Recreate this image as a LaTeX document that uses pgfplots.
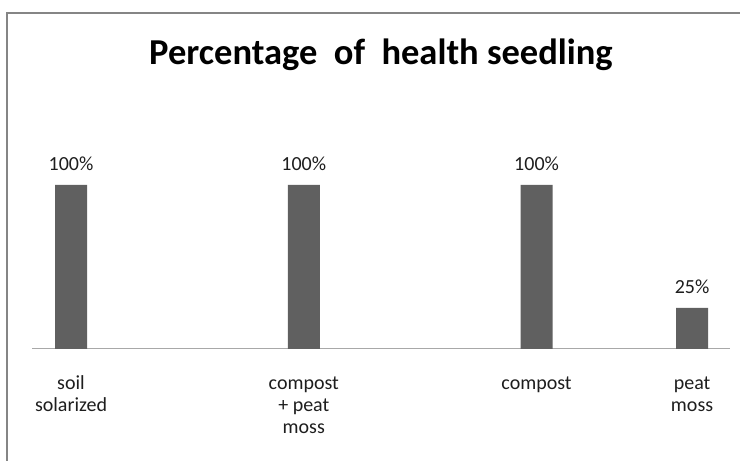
\documentclass[border=0pt]{standalone}
\usepackage{fontspec}
\setmainfont{Carlito}
\usepackage{pgfplots}
\pgfplotsset{compat=1.18}
\definecolor{barc}{HTML}{606060}
\definecolor{framec}{HTML}{858585}
\definecolor{axc}{HTML}{A8A8A8}
\definecolor{txt}{HTML}{1E1E1E}
\begin{document}
\begin{tikzpicture}[x=1bp,y=1bp]
\useasboundingbox (0,0) rectangle (740,461);
\fill[white] (0,0) rectangle (740,461);
\draw[framec, line width=1.5bp] (7,-5) -- (7,448) -- (745,448);
\node[anchor=base, font=\fontsize{36.5bp}{40bp}\selectfont\bfseries, text=black, inner sep=0pt] at (381,396) {Percentage\ \ of\ \ health seedling};
\begin{axis}[
  at={(32bp,112bp)}, anchor=south west,
  scale only axis, width=698bp, height=164bp,
  xmin=-0.1676, xmax=2.831, ymin=0, ymax=100,
  axis y line=none,
  axis x line*=bottom,
  x axis line style={draw=axc, line width=1bp, -},
  xtick={0,1,2,2.668},
  xticklabels={{\begin{tabular}[t]{@{}c@{}}soil\\solarized\end{tabular}},
               {\begin{tabular}[t]{@{}c@{}}compost\\+ peat\\moss\end{tabular}},
               {\begin{tabular}[t]{@{}c@{}}compost\end{tabular}},
               {\begin{tabular}[t]{@{}c@{}}peat\\moss\end{tabular}}},
  major tick length=0pt,
  xticklabel style={anchor=base, yshift=-41bp, inner sep=0pt, text=txt, font=\fontsize{20bp}{22bp}\selectfont},
  ybar, bar width=32bp,
  point meta=explicit symbolic,
  nodes near coords,
  every node near coord/.append style={anchor=base, yshift=14.5bp, inner sep=0pt, text=txt, font=\fontsize{20bp}{22bp}\selectfont},
  clip=false,
]
\addplot[fill=barc, draw=none] coordinates {(0,100)[100\%] (1,100)[100\%] (2,100)[100\%] (2.668,25)[25\%]};
\end{axis}
\end{tikzpicture}
\end{document}
